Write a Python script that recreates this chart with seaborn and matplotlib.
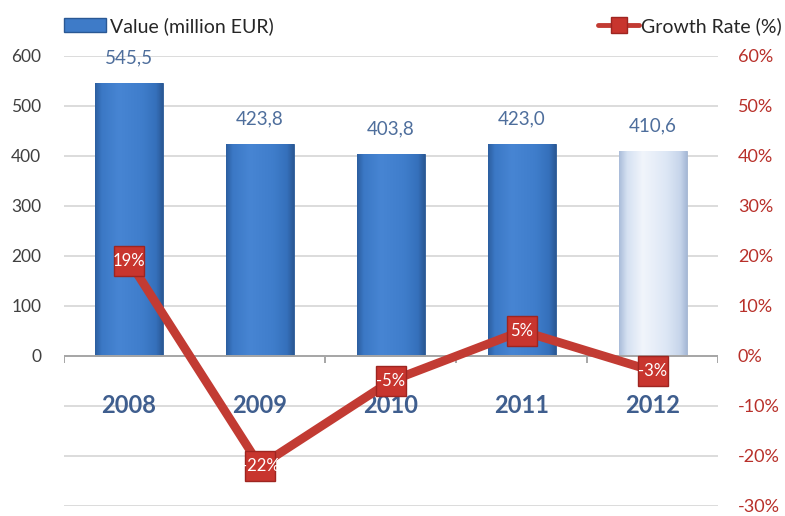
import numpy as np
import pandas as pd
import matplotlib
matplotlib.use("Agg")
import matplotlib.pyplot as plt
from matplotlib.colors import LinearSegmentedColormap
from matplotlib.patches import Patch
from matplotlib.lines import Line2D
import seaborn as sns

# Data
years = ["2008", "2009", "2010", "2011", "2012"]
value_meur = [545.5, 423.8, 403.8, 423.0, 410.6]
growth_pct = [19, -22, -5, 5, -3]
left_ticks = [-300, -200, -100, 0, 100, 200, 300, 400, 500, 600]
right_ticks = [-30, -20, -10, 0, 10, 20, 30, 40, 50, 60]

df = pd.DataFrame({"year": years, "value": value_meur, "growth": growth_pct})

sns.set_theme(style="white")
plt.rcParams["font.family"] = ["Lato", "DejaVu Sans"]

BLUE = "#3E7BC8"
LIGHT = "#D4E0F2"
RED = "#C23B33"
RED_TXT = "#B8302A"
YEAR_COL = "#3F5E8E"
VAL_COL = "#4E6E9C"

fig = plt.figure(figsize=(7.85, 5.16), dpi=100)
ax = fig.add_axes([0.081, 0.0194, 0.834, 0.8721])

bar_colors = [BLUE, BLUE, BLUE, BLUE, LIGHT]
sns.barplot(data=df, x="year", y="value", hue="year", palette=bar_colors,
            legend=False, width=0.515, ax=ax, saturation=1, zorder=3)

# soft horizontal shading clipped to each bar
blue_cmap = LinearSegmentedColormap.from_list(
    "bluebar", [(0, "#2C5E9F"), (0.1, "#3B78C5"), (0.35, "#4785D3"),
                (0.7, "#3F7DCB"), (0.9, "#3570BB"), (1, "#2A5894")])
light_cmap = LinearSegmentedColormap.from_list(
    "lightbar", [(0, "#A9BCD9"), (0.12, "#D5E1F2"), (0.35, "#F1F5FB"),
                 (0.7, "#DDE7F5"), (0.9, "#C7D5EB"), (1, "#A6B9D6")])
grad = np.linspace(0, 1, 256).reshape(1, -1)
for patch, col in zip(ax.patches, bar_colors):
    x0, y0 = patch.get_x(), patch.get_y()
    w, h = patch.get_width(), patch.get_height()
    cmap = light_cmap if col == LIGHT else blue_cmap
    im = ax.imshow(grad, cmap=cmap, extent=[x0, x0 + w, y0, y0 + h],
                   aspect="auto", zorder=3.5, interpolation="bilinear")
    im.set_clip_path(patch)
    patch.set_edgecolor("#2A5894" if col != LIGHT else "#9FB2CF")
    patch.set_linewidth(0.6)
ax.set_xlim(-0.5, len(years) - 0.5)
ax.set_ylim(-300, 600)

# value labels above bars
for i, v in enumerate(value_meur):
    ax.annotate(f"{v:.1f}".replace(".", ","), (i, v), xytext=(0, 12),
                textcoords="offset points", ha="center", va="bottom",
                fontsize=13.5, color=VAL_COL, zorder=5)

# gridlines
for t in left_ticks:
    ax.axhline(t, color="#D9D9D9", lw=1.3, zorder=1)

# category axis line at zero with boundary ticks
ax.axhline(0, color="#A6A6A6", lw=1.4, zorder=4)
ax.vlines(np.arange(len(years) + 1) - 0.5, -14, 0, color="#A6A6A6",
          lw=1.4, zorder=4)

# year labels
for i, y in enumerate(years):
    ax.text(i, -100, y, ha="center", va="center", fontsize=17,
            fontweight="bold", color=YEAR_COL, zorder=4)

ax.set_yticks(left_ticks)
ax.set_yticklabels([str(t) if t >= 0 else "" for t in left_ticks],
                   fontsize=12.5, color="#404040")
ax.tick_params(axis="y", length=0, pad=16)
ax.set_xticks([])
ax.set_xlabel("")
ax.set_ylabel("")
for s in ax.spines.values():
    s.set_visible(False)

# growth rate on secondary axis
ax2 = ax.twinx()
sns.lineplot(x=np.arange(len(years)), y=growth_pct, ax=ax2, color=RED,
             lw=6.3, marker="s", markersize=21.5, markerfacecolor="#C8352E",
             markeredgecolor="#9E2520", markeredgewidth=1, zorder=6)
ax2.set_ylim(-30, 60)
ax2.set_xlim(-0.5, len(years) - 0.5)
ax2.set_yticks(right_ticks)
ax2.set_yticklabels([f"{t}%" for t in right_ticks], fontsize=13,
                    color=RED_TXT)
ax2.tick_params(axis="y", length=0, pad=14)
ax2.set_ylabel("")
for s in ax2.spines.values():
    s.set_visible(False)

for i, g in enumerate(growth_pct):
    ax2.text(i, g, f"{g}%", ha="center", va="center", fontsize=12,
             color="white", zorder=7)

# legends
fig.legend(handles=[Patch(facecolor=BLUE, edgecolor="#2A5894")],
           labels=["Value (million EUR)"], loc="center left",
           bbox_to_anchor=(64 / 785, 1 - 26 / 516), frameon=False,
           fontsize=14, handlelength=2.15, handleheight=0.75,
           handletextpad=0.2, borderpad=0, borderaxespad=0)
fig.legend(handles=[Line2D([0], [0], color=RED, lw=3.5, marker="s",
                           markersize=11, markerfacecolor="#C8352E",
                           markeredgecolor="#9E2520")],
           labels=["Growth Rate (%)"], loc="center right",
           bbox_to_anchor=(782 / 785, 1 - 26 / 516), frameon=False,
           fontsize=14, handlelength=2.1, handletextpad=0.12,
           borderpad=0, borderaxespad=0)

fig.savefig("out.png", dpi=100)
